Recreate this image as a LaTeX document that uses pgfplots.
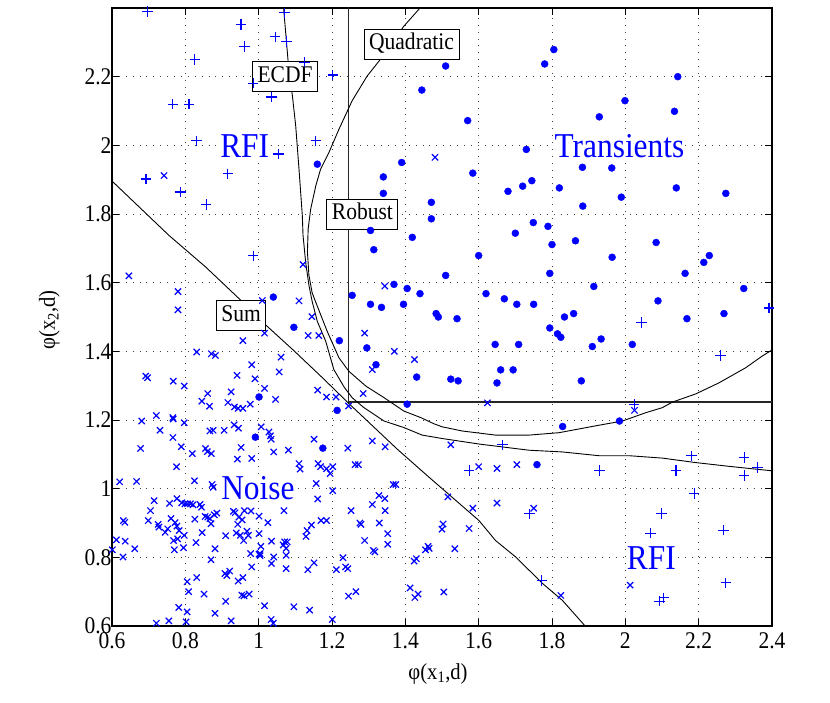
\documentclass[border=0pt]{standalone}
\usepackage{fontspec}
\setmainfont{Liberation Serif}[FakeStretch=0.9]
\usepackage{pgfplots}
\pgfplotsset{compat=1.18}
\definecolor{mblue}{RGB}{0,0,255}
\begin{document}
\begin{tikzpicture}
\path[use as bounding box] (-112bp,-77bp) rectangle (718bp,626bp);
\begin{axis}[
  at={(0,0)}, anchor=south west,
  width=660bp, height=618bp, scale only axis,
  xmin=0.6, xmax=2.4, ymin=0.6, ymax=2.4,
  xtick={0.6,0.8,1,1.2,1.4,1.6,1.8,2,2.2,2.4},
  ytick={0.6,0.8,1,1.2,1.4,1.6,1.8,2,2.2},
  xtick pos=both, ytick pos=both, tick align=inside,
  major tick length=7bp,
  tick style={black, line width=0.8bp},
  axis line style={black, line width=1.2bp},
  grid=major,
  major grid style={black!75, line width=0.9bp, dash pattern=on 0.9bp off 6bp},
  /pgf/number format/assume math mode=true,
  tick label style={font=\fontsize{24}{24}\selectfont},
  yticklabel style={xshift=3bp},
  xticklabel style={yshift=-3bp},
  every axis x label/.style={at={(axis description cs:0.494,-0.077)}, anchor=center},
  every axis y label/.style={at={(axis description cs:-0.095,0.495)}, rotate=90, anchor=center},
  label style={font=\fontsize{23}{23}\selectfont},
  xlabel={φ(x\textsubscript{1},d)},
  ylabel={φ(x\textsubscript{2},d)},
  clip=true,
]
% Noise (x)
\addplot[only marks, mark=x, mark size=4.4bp, color=mblue, mark options={line width=1.2bp, draw=mblue}] coordinates {
(0.742,1.912)(0.646,1.620)(0.780,1.574)(0.780,1.521)(1.121,1.653)(1.110,1.547)(1.010,1.548)(1.145,1.501)(1.344,1.590)(1.481,1.965)
(1.624,1.250)(2.025,1.228)(1.524,1.128)(1.600,1.064)(1.650,1.059)(1.704,1.070)(1.516,0.976)(1.584,0.943)(1.650,0.958)(1.750,0.943)(1.503,0.897)(1.500,0.882)(1.574,0.884)(1.535,0.825)(1.465,0.826)(1.505,0.699)(1.824,0.689)(2.013,0.719)
(1.016,1.453)(1.135,1.446)(1.164,1.446)(0.957,1.431)(1.289,1.453)(0.831,1.398)(0.871,1.393)(0.882,1.388)(1.370,1.400)(1.425,1.376)(1.061,1.383)(0.981,1.361)(1.056,1.340)(1.310,1.347)(0.941,1.330)(0.692,1.328)(0.697,1.323)(0.767,1.313)(0.990,1.320)(0.797,1.299)(1.016,1.292)(1.161,1.287)(0.925,1.282)(0.861,1.277)(1.285,1.277)(1.046,1.260)(0.845,1.255)(0.866,1.240)(0.916,1.251)(0.934,1.238)(0.944,1.234)(0.957,1.234)(0.977,1.246)(1.185,1.267)(1.211,1.267)(1.245,1.241)
(0.681,1.197)(0.721,1.213)(0.731,1.170)(0.766,1.207)(0.767,1.203)(0.797,1.192)(0.867,1.168)(0.876,1.170)(0.906,1.170)(0.933,1.186)(0.945,1.176)(1.007,1.180)(1.028,1.165)(1.032,1.154)(1.034,1.144)(0.766,1.149)(0.678,1.117)(0.789,1.122)(0.819,1.102)(0.855,1.117)(0.860,1.108)(0.871,1.102)(0.952,1.120)(0.942,1.086)(0.981,1.088)(1.041,1.107)(1.081,1.112)(1.151,1.144)(1.243,1.118)(1.310,1.139)(1.345,1.122)
(0.776,1.064)(0.597,1.074)(0.621,1.020)(0.667,1.021)(0.825,1.023)(0.873,1.012)(0.876,1.004)(1.110,1.073)(1.113,1.057)(1.162,1.073)(1.169,1.064)(1.185,1.058)(1.195,1.044)(1.202,1.064)(1.157,1.015)(1.263,1.070)(1.272,1.070)(1.161,0.970)(1.202,0.994)(1.367,1.012)(1.374,1.012)(1.328,0.980)(1.344,0.971)(1.310,0.954)(1.345,0.936)(1.252,0.936)(1.276,0.900)(1.279,0.896)(1.329,0.900)(1.352,0.869)(1.352,0.838)(1.289,0.849)(1.313,0.820)(1.317,0.816)
(1.069,0.936)(1.025,0.901)(1.001,0.920)(0.979,0.935)(1.170,0.907)(1.185,0.907)(1.144,0.894)(1.132,0.878)(1.129,0.861)(1.071,0.845)(1.078,0.845)(1.067,0.836)(1.075,0.826)(1.035,0.847)(1.001,0.869)(1.006,0.832)(1.001,0.809)(1.004,0.805)(1.041,0.801)(1.035,0.782)(1.075,0.806)(1.075,0.767)(1.134,0.764)(1.151,0.784)(1.212,0.764)(1.230,0.799)(1.237,0.772)(1.243,0.767)
(0.981,0.772)(0.908,0.753)(0.921,0.760)(0.913,0.747)(0.944,0.731)(0.957,0.741)(0.954,0.690)(0.960,0.688)(0.974,0.693)(0.910,0.672)(0.881,0.637)(0.925,0.615)(1.016,0.659)(1.034,0.619)(1.040,0.608)(1.096,0.656)(1.139,0.646)(1.201,0.619)(1.245,0.687)(1.265,0.700)
(0.595,0.641)(0.721,0.608)(0.755,0.615)(0.782,0.654)(0.805,0.641)(0.802,0.612)(0.805,0.729)(0.809,0.700)(0.831,0.741)(0.851,0.693)(0.870,0.793)(0.881,0.825)(0.601,0.822)(0.630,0.801)(0.612,0.851)(0.636,0.847)(0.631,0.907)(0.635,0.902)(0.662,0.825)(0.699,0.907)(0.705,0.936)(0.715,0.965)(0.726,0.896)(0.728,0.888)(0.752,0.883)(0.745,0.873)(0.757,0.957)(0.761,0.913)(0.772,0.901)(0.777,0.891)(0.783,0.878)
(0.777,0.971)(0.790,0.959)(0.799,0.956)(0.806,0.956)(0.814,0.956)(0.821,0.953)(0.840,0.954)(0.844,0.946)(0.826,0.911)(0.854,0.919)(0.861,0.917)(0.867,0.913)(0.879,0.924)(0.886,0.929)(0.768,0.849)(0.770,0.822)(0.779,0.854)(0.797,0.864)(0.795,0.828)(0.829,0.843)(0.846,0.872)(0.870,0.898)(0.910,0.863)(0.931,0.934)(0.936,0.930)(0.943,0.896)(0.946,0.917)(0.955,0.909)(0.961,0.936)(0.939,0.871)(0.950,0.864)(0.959,0.849)(0.968,0.876)(0.972,0.864)(0.978,0.811)(1.004,0.811)
(1.424,0.789)(1.430,0.796)(1.455,0.822)(1.462,0.832)(1.413,0.711)(1.426,0.683)(1.435,0.693)
};
% RFI (+)
\addplot[only marks, mark=+, mark size=5.2bp, color=mblue, mark options={line width=1.2bp, draw=mblue}] coordinates {
(0.697,2.390)(1.071,2.386)(0.952,2.352)(0.961,2.288)(1.045,2.316)(1.076,2.302)(0.826,2.250)(1.125,2.242)(1.202,2.205)(0.985,2.181)(1.035,2.141)(0.766,2.120)(0.810,2.120)(0.831,2.013)(1.156,2.013)(1.054,1.975)(0.693,1.902)(0.916,1.917)(0.787,1.864)(0.857,1.828)(0.985,1.678)
(2.392,1.526)(2.044,1.484)(2.260,1.388)(2.024,1.246)(1.665,1.128)(1.574,1.053)(1.929,1.053)(2.138,1.053)(2.180,1.096)(2.324,1.091)(2.324,1.038)(2.360,1.062)(2.188,0.986)(2.099,0.928)(2.069,0.870)(2.268,0.879)(1.739,0.927)(1.772,0.732)(2.274,0.726)(2.093,0.672)(2.105,0.682)
};
% Transients (dots)
\addplot[only marks, mark=*, mark size=3.5bp, color=mblue, mark options={fill=mblue, draw=mblue}] coordinates {
(1.805,2.279)(1.780,2.237)(1.510,2.231)(2.143,2.200)(1.445,2.161)(1.999,2.130)(1.929,2.083)(2.134,2.099)(1.570,2.072)(1.730,1.988)(1.160,1.945)(1.390,1.950)(1.584,1.919)(1.340,1.908)(1.340,1.860)(1.680,1.866)(1.720,1.881)(1.745,1.897)(1.820,1.876)(2.139,1.876)(2.274,1.860)(1.989,1.849)(1.884,1.823)(1.471,1.834)(1.471,1.786)(1.749,1.775)(1.789,1.764)(1.700,1.744)(1.800,1.711)(1.864,1.722)(2.084,1.717)(1.419,1.732)(1.314,1.696)(1.305,1.752)(1.600,1.679)(1.964,1.674)(2.214,1.659)(2.229,1.679)(2.163,1.627)(1.510,1.621)(1.794,1.627)(1.914,1.589)(2.323,1.583)(1.620,1.568)(1.670,1.553)(1.704,1.537)(1.750,1.537)(2.089,1.547)(2.269,1.510)(2.168,1.495)(1.484,1.510)(1.490,1.500)(1.541,1.495)(1.794,1.468)(1.834,1.500)(1.859,1.510)
(1.369,1.595)(1.405,1.583)(1.440,1.568)(1.255,1.563)(1.305,1.537)(1.335,1.528)(1.395,1.537)(1.040,1.558)(1.096,1.470)(1.815,1.451)(1.824,1.441)(1.645,1.420)(1.709,1.420)(1.910,1.414)(1.934,1.436)(2.019,1.420)(1.660,1.346)(1.694,1.346)(1.524,1.319)(1.544,1.314)(1.650,1.308)(1.880,1.314)(1.829,1.181)(1.984,1.197)(1.759,1.070)(1.220,1.431)(1.295,1.410)(1.320,1.361)(1.431,1.325)(1.001,1.267)(1.214,1.228)(1.405,1.246)(0.991,1.150)(1.175,1.118)(1.883,1.936)(1.963,1.934)
};
% Robust
\addplot[black!85, line width=1.3bp, no markers] coordinates {(1.245,2.45)(1.245,1.252)(2.45,1.252)};
% ECDF
\addplot[black, line width=0.9bp, no markers] coordinates {
(1.068,2.4)(1.081,2.236)(1.092,2.144)(1.101,2.057)(1.110,1.931)(1.119,1.796)(1.121,1.738)(1.128,1.661)(1.137,1.593)(1.146,1.545)(1.160,1.487)(1.183,1.429)(1.205,1.347)(1.233,1.296)(1.255,1.265)(1.287,1.236)(1.342,1.197)(1.396,1.178)(1.446,1.156)(1.501,1.146)(1.601,1.130)(1.737,1.112)(1.828,1.107)(1.928,1.096)(2.010,1.096)(2.101,1.089)(2.192,1.076)(2.283,1.065)(2.4,1.052)};
% Quadratic
\addplot[black, line width=0.9bp, no markers] coordinates {
(1.44,2.4)(1.396,2.347)(1.328,2.245)(1.296,2.202)(1.255,2.130)(1.219,2.047)(1.192,1.980)(1.169,1.931)(1.156,1.883)(1.142,1.815)(1.135,1.757)(1.133,1.690)(1.137,1.622)(1.146,1.570)(1.155,1.545)(1.187,1.458)(1.219,1.381)(1.246,1.342)(1.292,1.299)(1.342,1.265)(1.396,1.226)(1.442,1.207)(1.478,1.189)(1.501,1.180)(1.555,1.168)(1.646,1.156)(1.737,1.156)(1.819,1.163)(1.919,1.183)(1.992,1.197)(2.055,1.221)(2.101,1.236)(2.128,1.252)(2.192,1.276)(2.255,1.308)(2.328,1.352)(2.373,1.386)(2.4,1.404)};
% Sum
\addplot[black, line width=0.9bp, no markers] coordinates {
(0.6,1.896)(0.755,1.738)(0.855,1.646)(0.955,1.545)(1.019,1.477)(1.096,1.402)(1.174,1.323)(1.246,1.248)(1.378,1.115)(1.465,1.033)(1.601,0.907)(1.646,0.849)(1.701,0.801)(1.774,0.724)(1.828,0.675)(1.892,0.598)};
% region labels
\node[mblue, fill=white, inner sep=1bp, font=\fontsize{35}{35}\selectfont] at (axis cs:0.962,1.999) {RFI};
\node[mblue, fill=white, inner sep=1bp, font=\fontsize{35}{35}\selectfont] at (axis cs:1.984,1.999) {Transients};
\node[mblue, fill=white, inner sep=1bp, font=\fontsize{35}{35}\selectfont] at (axis cs:0.998,1.003) {Noise};
\node[mblue, fill=white, inner sep=1bp, font=\fontsize{35}{35}\selectfont] at (axis cs:2.071,0.798) {RFI};
% method boxes
\tikzset{mbox/.style={draw=black, fill=white, line width=0.9bp, font=\fontsize{24}{24}\selectfont, inner xsep=5bp, inner ysep=3.5bp, text height=17bp, text depth=6bp}}
\node[mbox] at (axis cs:1.072,2.200) {ECDF};
\node[mbox] at (axis cs:1.417,2.294) {Quadratic};
\node[mbox] at (axis cs:1.283,1.799) {Robust};
\node[mbox] at (axis cs:0.952,1.504) {Sum};
\end{axis}
\end{tikzpicture}
\end{document}
